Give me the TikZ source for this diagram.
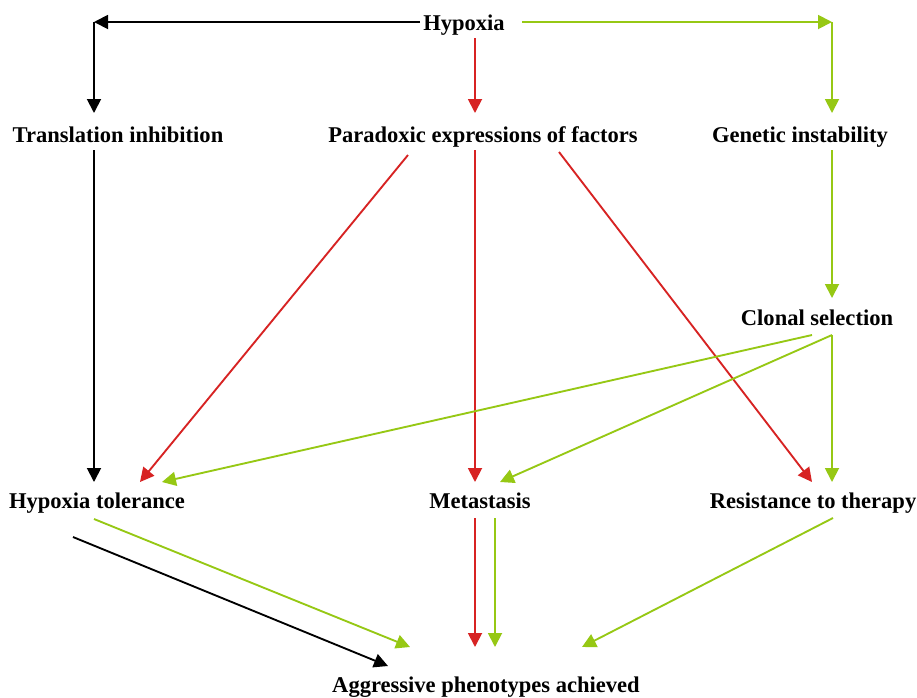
\documentclass[tikz,border=0pt]{standalone}
\usepackage{fontspec}
\setmainfont{Liberation Serif}
\usetikzlibrary{arrows.meta}
\definecolor{lgreen}{RGB}{150,200,20}
\definecolor{dred}{RGB}{215,35,35}
\tikzset{
  lbl/.style={anchor=base,inner sep=0pt,font=\fontsize{16.9pt}{18pt}\selectfont\bfseries},
  con/.style={line width=1.4pt,-{Triangle[length=10.5pt,width=10.5pt]}},
  blk/.style={con,black},
  grn/.style={con,lgreen},
  rd/.style={con,dred},
}
\begin{document}
\begin{tikzpicture}[x=0.75pt,y=-0.75pt]
\path[fill=white,use as bounding box] (0,0) rectangle (917,697);
% text nodes
\node[lbl] (hyp) at (464,30) {Hypoxia};
\node[lbl] (trans) at (118,142) {Translation inhibition};
\node[lbl] (para) at (483,142) {Paradoxic expressions of factors};
\node[lbl] (gen) at (800,142) {Genetic instability};
\node[lbl] (clon) at (817,325) {Clonal selection};
\node[lbl] (tol) at (97,508) {Hypoxia tolerance};
\node[lbl] (met) at (480,508) {Metastasis};
\node[lbl] (res) at (813,508) {Resistance to therapy};
\node[lbl] (agg) at (486,692) {Aggressive phenotypes achieved};
% connector points
\coordinate (hypL) at (420,22);
\coordinate (hypR) at (522,22);
\coordinate (hypB) at (475,38);
\coordinate (cTL) at (94,22);
\coordinate (cTR) at (832,22);
\coordinate (transT) at (94,113);
\coordinate (paraT) at (475,113);
\coordinate (genT) at (832,113);
\coordinate (transB) at (94,150);
\coordinate (paraBL) at (408,155);
\coordinate (paraB) at (475,150);
\coordinate (paraBR) at (559,152);
\coordinate (genB) at (832,150);
\coordinate (clonT) at (832,298);
\coordinate (clonBL) at (812,335);
\coordinate (clonB) at (832,335);
\coordinate (tolT) at (94,482);
\coordinate (tolTR) at (140,482);
\coordinate (tolTG) at (162,482);
\coordinate (metT) at (475,482);
\coordinate (metTG) at (500,482);
\coordinate (resTL) at (812,482);
\coordinate (resT) at (832,482);
\coordinate (tolBG) at (94,519);
\coordinate (tolBK) at (73,537);
\coordinate (metB) at (475,518);
\coordinate (metBG) at (495,518);
\coordinate (resB) at (833,518);
\coordinate (aggG1) at (410,647);
\coordinate (aggK) at (388,666);
\coordinate (aggR) at (475,647);
\coordinate (aggG2) at (495,647);
\coordinate (aggG3) at (582,647);
% connectors
\draw[blk] (hypL) -- (cTL);
\draw[blk] (cTL) -- (transT);
\draw[grn] (hypR) -- (cTR);
\draw[grn] (cTR) -- (genT);
\draw[rd] (hypB) -- (paraT);
\draw[blk] (transB) -- (tolT);
\draw[rd] (paraBL) -- (tolTR);
\draw[rd] (paraB) -- (metT);
\draw[rd] (paraBR) -- (resTL);
\draw[grn] (genB) -- (clonT);
\draw[grn] (clonBL) -- (tolTG);
\draw[grn] (clonB) -- (metTG);
\draw[grn] (clonB) -- (resT);
\draw[grn] (tolBG) -- (aggG1);
\draw[blk] (tolBK) -- (aggK);
\draw[rd] (metB) -- (aggR);
\draw[grn] (metBG) -- (aggG2);
\draw[grn] (resB) -- (aggG3);
\end{tikzpicture}
\end{document}
